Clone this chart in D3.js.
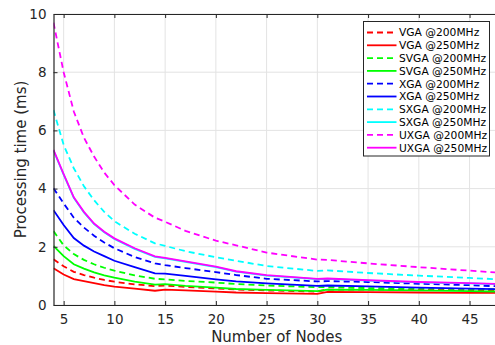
<!DOCTYPE html>
<html>
<head>
<meta charset="utf-8">
<script src="https://cdn.jsdelivr.net/npm/d3@7"></script>
<style>
  html, body { margin: 0; padding: 0; background: #fff; }
  svg { display: block; font-family: 'DejaVu Sans', sans-serif; }
</style>
</head>
<body>
<div id="chart"></div>
<script>
const nodes = [4, 5, 6, 7, 8, 9, 10, 12, 14, 15, 17, 20, 22, 25, 30, 31, 35, 40, 45, 48];

// processing time (ms) per series
const vga200  = [1.57, 1.33, 1.14, 1.03, 0.94, 0.86, 0.80, 0.71, 0.65, 0.67, 0.62, 0.57, 0.53, 0.50, 0.46, 0.53, 0.53, 0.52, 0.51, 0.50];
const vga250  = [1.26, 1.05, 0.89, 0.82, 0.75, 0.68, 0.63, 0.56, 0.49, 0.53, 0.50, 0.46, 0.43, 0.41, 0.38, 0.45, 0.44, 0.43, 0.42, 0.42];
const svga200 = [2.54, 2.05, 1.75, 1.55, 1.40, 1.28, 1.18, 1.02, 0.90, 0.88, 0.83, 0.77, 0.72, 0.67, 0.61, 0.62, 0.58, 0.57, 0.55, 0.54];
const svga250 = [2.03, 1.68, 1.40, 1.25, 1.12, 1.02, 0.94, 0.80, 0.70, 0.72, 0.66, 0.60, 0.55, 0.52, 0.48, 0.53, 0.52, 0.50, 0.48, 0.46];
const xga200  = [4.01, 3.49, 3.00, 2.66, 2.38, 2.15, 1.95, 1.65, 1.43, 1.37, 1.27, 1.13, 1.03, 0.90, 0.81, 0.82, 0.79, 0.73, 0.68, 0.64];
const xga250  = [3.26, 2.75, 2.30, 2.04, 1.84, 1.68, 1.52, 1.30, 1.09, 1.08, 1.00, 0.88, 0.81, 0.74, 0.66, 0.67, 0.64, 0.60, 0.56, 0.54];
const sxga200 = [6.70, 5.50, 4.70, 4.08, 3.60, 3.20, 2.88, 2.45, 2.12, 2.03, 1.85, 1.64, 1.52, 1.34, 1.17, 1.19, 1.10, 1.01, 0.93, 0.88];
const sxga250 = [5.31, 4.48, 3.68, 3.18, 2.78, 2.50, 2.27, 1.93, 1.65, 1.60, 1.48, 1.30, 1.15, 1.01, 0.89, 0.90, 0.84, 0.78, 0.74, 0.71];
const uxga200 = [9.70, 8.00, 6.65, 5.75, 5.10, 4.55, 4.12, 3.45, 3.00, 2.86, 2.55, 2.21, 2.05, 1.80, 1.56, 1.55, 1.43, 1.30, 1.18, 1.11];
const uxga250 = [5.33, 4.50, 3.70, 3.20, 2.80, 2.52, 2.29, 1.95, 1.67, 1.62, 1.50, 1.32, 1.16, 1.03, 0.90, 0.91, 0.85, 0.79, 0.75, 0.72];

const seriesNames = ['VGA @200MHz', 'VGA @250MHz', 'SVGA @200MHz', 'SVGA @250MHz', 'XGA @200MHz',
                     'XGA @250MHz', 'SXGA @200MHz', 'SXGA @250MHz', 'UXGA @200MHz', 'UXGA @250MHz'];
const seriesValues = [vga200, vga250, svga200, svga250, xga200, xga250, sxga200, sxga250, uxga200, uxga250];

const xTicks = [5, 10, 15, 20, 25, 30, 35, 40, 45];
const yTicks = [0, 2, 4, 6, 8, 10];

const colors = ['#ff0000', '#ff0000', '#00ff00', '#00ff00', '#0000ff', '#0000ff', '#00ffff', '#00ffff', '#ff00ff', '#ff00ff'];
const dashed = [true, false, true, false, true, false, true, false, true, false];

const width = 495, height = 345;
const plot = { left: 53.5, right: 500, top: 14, bottom: 305 };
const axisColor = '#262626';

const svg = d3.select('#chart').append('svg')
  .attr('width', width)
  .attr('height', height);

const x = d3.scaleLinear().domain([4, 48]).range([plot.left, plot.right]);
const y = d3.scaleLinear().domain([0, 10]).range([plot.bottom, plot.top]);

svg.append('defs').append('clipPath').attr('id', 'clip')
  .append('rect')
  .attr('x', plot.left).attr('y', plot.top)
  .attr('width', plot.right - plot.left).attr('height', plot.bottom - plot.top);

// --- grid ---
const grid = svg.append('g');
grid.selectAll('.gx').data(xTicks).enter().append('line')
  .attr('x1', d => x(d)).attr('x2', d => x(d))
  .attr('y1', plot.top).attr('y2', plot.bottom)
  .attr('stroke', '#e3e3e3').attr('stroke-width', 1);
grid.selectAll('.gy').data(yTicks).enter().append('line')
  .attr('x1', plot.left).attr('x2', plot.right)
  .attr('y1', d => y(d)).attr('y2', d => y(d))
  .attr('stroke', '#e3e3e3').attr('stroke-width', 1);

// --- series ---
const line = d3.line()
  .x((d, i) => x(nodes[i]))
  .y(d => y(d));

const lines = svg.append('g').attr('clip-path', 'url(#clip)');
seriesValues.forEach((vals, i) => {
  lines.append('path')
    .datum(vals)
    .attr('d', line)
    .attr('fill', 'none')
    .attr('stroke', colors[i])
    .attr('stroke-width', 1.8)
    .attr('stroke-dasharray', dashed[i] ? '6,4' : null);
});

// --- axes (inward ticks, box on top) ---
const xAxis = d3.axisBottom(x).tickValues(xTicks).tickSizeInner(-4).tickSizeOuter(0).tickPadding(9);
const gx = svg.append('g').attr('transform', `translate(0,${plot.bottom})`).call(xAxis);
const yAxis = d3.axisLeft(y).tickValues(yTicks).tickSizeInner(-4).tickSizeOuter(0).tickPadding(7);
const gy = svg.append('g').attr('transform', `translate(${plot.left},0)`).call(yAxis);
const xTop = d3.axisTop(x).tickValues(xTicks).tickSizeInner(-4).tickSizeOuter(0).tickFormat('');
const gt = svg.append('g').attr('transform', `translate(0,${plot.top})`).call(xTop);

[gx, gy, gt].forEach(g => {
  g.select('.domain').attr('stroke', axisColor).attr('stroke-width', 1.2);
  g.selectAll('.tick line').attr('stroke', axisColor);
  g.selectAll('.tick text')
    .attr('fill', axisColor)
    .style('font-family', "'DejaVu Sans', sans-serif")
    .style('font-size', '13.5px');
});

// axis labels
svg.append('text')
  .attr('x', (plot.left + plot.right) / 2)
  .attr('y', 342)
  .attr('text-anchor', 'middle')
  .attr('fill', axisColor)
  .style('font-size', '15px')
  .text('Number of Nodes');

svg.append('text')
  .attr('transform', `translate(26,${(plot.top + plot.bottom) / 2}) rotate(-90)`)
  .attr('text-anchor', 'middle')
  .attr('fill', axisColor)
  .style('font-size', '15px')
  .text('Processing time (ms)');

// --- legend ---
const legend = svg.append('g').attr('transform', 'translate(363.5,21.5)');
legend.append('rect')
  .attr('width', 126).attr('height', 134.5)
  .attr('fill', '#fff')
  .attr('stroke', axisColor).attr('stroke-width', 1);

const rowH = 12.8;
seriesNames.forEach((name, i) => {
  const ry = 11 + i * rowH;
  legend.append('line')
    .attr('x1', 3.5).attr('x2', 33)
    .attr('y1', ry).attr('y2', ry)
    .attr('stroke', colors[i])
    .attr('stroke-width', 1.8)
    .attr('stroke-dasharray', dashed[i] ? '6,4' : null);
  legend.append('text')
    .attr('x', 35.5).attr('y', ry)
    .attr('dy', '0.36em')
    .attr('fill', '#000')
    .style('font-size', '10.7px')
    .text(name);
});
</script>
</body>
</html>
